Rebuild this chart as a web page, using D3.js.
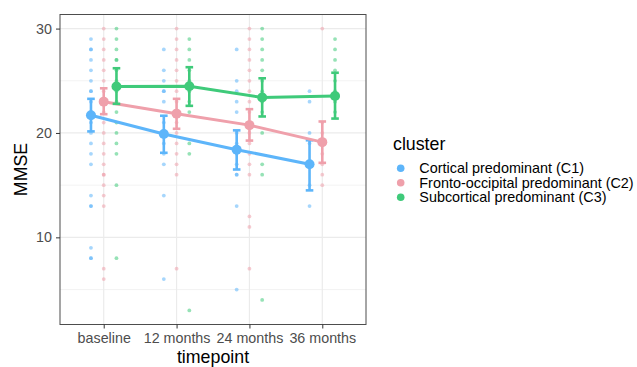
<!DOCTYPE html>
<html>
<head>
<meta charset="utf-8">
<script src="https://cdn.jsdelivr.net/npm/d3@7"></script>
<style>
  html, body { margin: 0; padding: 0; background: #fff; }
  svg text { font-family: "Liberation Sans", Arial, sans-serif; }
</style>
</head>
<body>
<svg id="chart" width="637" height="367"></svg>
<script>
// ---------- data ----------
const timepoints = ["baseline", "12 months", "24 months", "36 months"];
const clusters = ["Cortical predominant (C1)", "Fronto-occipital predominant (C2)", "Subcortical predominant (C3)"];
const clusterColors = ["#5db5fa", "#efa0ab", "#3fca7a"];
const yTicks = [10, 20, 30];
const yMinor = [5, 15, 25];

// individual MMSE scores per timepoint
const c1Scores = [
  [29, 28, 28, 27, 26, 25, 24, 24, 23, 22, 21, 20, 19, 18, 17, 14, 13, 13, 9, 8, 8],
  [28, 26, 25, 24, 24, 23, 21, 20, 19, 18, 17, 14, 6],
  [28, 25, 24, 23, 22, 20, 19, 18, 17, 16, 16, 13, 5],
  [24, 23, 20, 19, 17, 15, 13]
];
const c2Scores = [
  [30, 29, 28, 27, 26, 25, 24, 23, 22, 21, 20, 19, 18, 17, 16, 16, 15, 14, 13, 7, 6],
  [30, 29, 28, 27, 26, 25, 24, 23, 22, 21, 20, 19, 18, 17, 16, 7],
  [30, 29, 28, 27, 26, 25, 24, 23, 22, 21, 20, 19, 18, 17, 16, 12, 11, 7],
  [30, 21, 20, 19, 18, 17, 16, 15]
];
const c3Scores = [
  [30, 29, 28, 27, 27, 26, 25, 24, 23, 22, 21, 20, 19, 18, 15, 8],
  [29, 28, 27, 26, 25, 24, 23, 22, 19, 18, 3],
  [30, 29, 28, 27, 26, 25, 24, 23, 22, 20, 17, 16, 4],
  [29, 28, 27, 26, 25, 24, 23, 22]
];

// summary: means and error bar limits
const c1Mean = [21.7, 19.9, 18.4, 17.0];
const c1Low  = [20.15, 18.1, 16.5, 14.5];
const c1High = [23.27, 21.65, 20.25, 19.3];
const c2Mean = [23.0, 21.85, 20.75, 19.12];
const c2Low  = [21.8, 20.4, 19.27, 17.14];
const c2High = [24.28, 23.27, 22.28, 21.1];
const c3Mean = [24.45, 24.47, 23.4, 23.55];
const c3Low  = [22.79, 22.6, 21.58, 21.38];
const c3High = [26.2, 26.3, 25.24, 25.77];

const scoresByCluster = [c1Scores, c2Scores, c3Scores];
const summaryByCluster = [
  { mean: c1Mean, low: c1Low, high: c1High },
  { mean: c2Mean, low: c2Low, high: c2High },
  { mean: c3Mean, low: c3Low, high: c3High }
];

// ---------- layout ----------
const svg = d3.select("#chart");
const panel = { left: 60, right: 366, top: 14.5, bottom: 324.5 };

const x = d3.scalePoint().domain(timepoints).range([panel.left, panel.right]).padding(0.6);
const dodge = d3.scalePoint().domain(d3.range(clusters.length)).range([-0.175, 0.175]);
const y = d3.scaleLinear().domain([1.65, 31.35]).range([panel.bottom, panel.top]);
const color = d3.scaleOrdinal().domain(d3.range(clusters.length)).range(clusterColors);
const xPos = (t, c) => x(timepoints[t]) + dodge(c) * x.step();

// panel background and grid
svg.append("rect").attr("x", panel.left).attr("y", panel.top)
  .attr("width", panel.right - panel.left).attr("height", panel.bottom - panel.top)
  .attr("fill", "#fff");
const grid = svg.append("g");
grid.selectAll(".minor").data(yMinor).join("line")
  .attr("x1", panel.left).attr("x2", panel.right)
  .attr("y1", d => y(d)).attr("y2", d => y(d))
  .attr("stroke", "#ebebeb").attr("stroke-width", 0.6);
grid.selectAll(".majory").data(yTicks).join("line")
  .attr("x1", panel.left).attr("x2", panel.right)
  .attr("y1", d => y(d)).attr("y2", d => y(d))
  .attr("stroke", "#ebebeb").attr("stroke-width", 1.2);
grid.selectAll(".majorx").data(timepoints).join("line")
  .attr("x1", d => x(d)).attr("x2", d => x(d))
  .attr("y1", panel.top).attr("y2", panel.bottom)
  .attr("stroke", "#ebebeb").attr("stroke-width", 1.2);

// raw points
const raw = [];
scoresByCluster.forEach((arr, c) => arr.forEach((vals, t) => vals.forEach(v => raw.push({ c, t, v }))));
svg.append("g").selectAll("circle").data(raw).join("circle")
  .attr("cx", d => xPos(d.t, d.c)).attr("cy", d => y(d.v)).attr("r", 1.9)
  .attr("fill", d => color(d.c)).attr("fill-opacity", 0.55);

// lines, error bars, means
summaryByCluster.forEach((s, c) => {
  const g = svg.append("g");
  const pts = timepoints.map((_, t) => ({ t, m: s.mean[t], lo: s.low[t], hi: s.high[t] }));
  g.append("path").datum(pts)
    .attr("d", d3.line().x(d => xPos(d.t, c)).y(d => y(d.m)))
    .attr("fill", "none").attr("stroke", color(c)).attr("stroke-width", 3);
  g.selectAll(".eb").data(pts).join("line")
    .attr("x1", d => xPos(d.t, c)).attr("x2", d => xPos(d.t, c))
    .attr("y1", d => y(d.lo)).attr("y2", d => y(d.hi))
    .attr("stroke", color(c)).attr("stroke-width", 2.6);
  ["lo", "hi"].forEach(k => {
    g.selectAll(".cap" + k).data(pts).join("line")
      .attr("x1", d => xPos(d.t, c) - 3.8).attr("x2", d => xPos(d.t, c) + 3.8)
      .attr("y1", d => y(d[k])).attr("y2", d => y(d[k]))
      .attr("stroke", color(c)).attr("stroke-width", 2.6);
  });
  g.selectAll(".mean").data(pts).join("circle")
    .attr("cx", d => xPos(d.t, c)).attr("cy", d => y(d.m)).attr("r", 5)
    .attr("fill", color(c));
});

// panel border
svg.append("rect").attr("x", panel.left).attr("y", panel.top)
  .attr("width", panel.right - panel.left).attr("height", panel.bottom - panel.top)
  .attr("fill", "none").attr("stroke", "#4d4d4d").attr("stroke-width", 1);

// axes
const xAxis = svg.append("g").attr("transform", `translate(0,${panel.bottom})`)
  .call(d3.axisBottom(x).tickSize(4).tickSizeOuter(0).tickPadding(4));
const yAxis = svg.append("g").attr("transform", `translate(${panel.left},0)`)
  .call(d3.axisLeft(y).tickValues(yTicks).tickSize(4).tickSizeOuter(0).tickPadding(4));
[xAxis, yAxis].forEach(a => {
  a.select(".domain").remove();
  a.selectAll(".tick line").attr("stroke", "#333");
  a.selectAll(".tick text").attr("fill", "#4d4d4d").style("font-size", "14.3px")
    .style("font-family", "'Liberation Sans', Arial, sans-serif");
});

// axis titles
svg.append("text").attr("x", (panel.left + panel.right) / 2).attr("y", 363)
  .attr("text-anchor", "middle").style("font-size", "17.8px").attr("fill", "#000").text("timepoint");
svg.append("text").attr("transform", `translate(26.5,${(panel.top + panel.bottom) / 2}) rotate(-90)`)
  .attr("text-anchor", "middle").style("font-size", "17.8px").attr("fill", "#000").text("MMSE");

// legend
const legend = svg.append("g");
legend.append("text").attr("x", 393).attr("y", 150).style("font-size", "17.8px").attr("fill", "#000").text("cluster");
const items = legend.selectAll(".item").data(clusters).join("g")
  .attr("transform", (d, i) => `translate(0,${168.3 + i * 14.5})`);
items.append("circle").attr("cx", 400.7).attr("cy", 0).attr("r", 3.8).attr("fill", (d, i) => color(i));
items.append("text").attr("x", 419.3).attr("y", 5).style("font-size", "14.4px").attr("fill", "#000").text(d => d);
</script>
</body>
</html>
